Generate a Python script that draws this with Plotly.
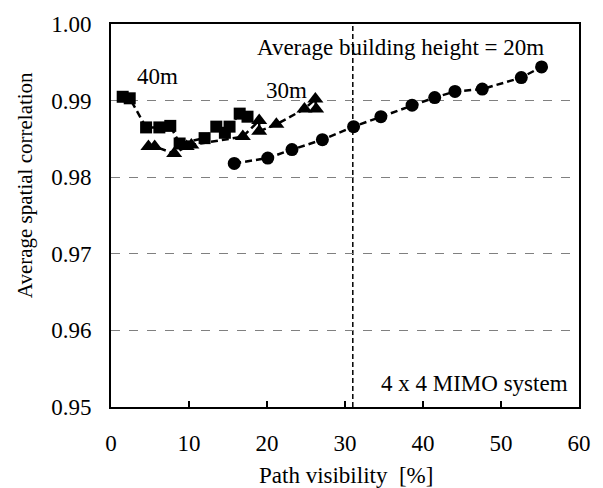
import plotly.graph_objects as go

# Data
x_20m = [15.8, 20.1, 23.2, 27.1, 31.1, 34.6, 38.6, 41.5, 44.1, 47.6, 52.6, 55.2]
y_20m = [0.9818, 0.9825, 0.9836, 0.9849, 0.9866, 0.9879, 0.9894, 0.9904, 0.9912, 0.9915, 0.9930, 0.9944]

x_30m = [4.8, 5.6, 8.1, 9.7, 10.3, 16.9, 19.0, 19.0, 21.2, 24.8, 26.2, 26.3]
y_30m = [0.9840, 0.9840, 0.9831, 0.9840, 0.9842, 0.9853, 0.9874, 0.9860, 0.9869, 0.9889, 0.9902, 0.9889]

x_40m = [1.5, 2.4, 4.5, 6.2, 7.6, 8.8, 12.0, 13.5, 14.6, 15.2, 16.5, 17.5]
y_40m = [0.9905, 0.9903, 0.9865, 0.9865, 0.9867, 0.9844, 0.9851, 0.9866, 0.9858, 0.9866, 0.9883, 0.9879]

x_ticks = [0, 10, 20, 30, 40, 50, 60]
y_ticks = [0.95, 0.96, 0.97, 0.98, 0.99, 1.00]
y_tick_text = ["0.95", "0.96", "0.97", "0.98", "0.99", "1.00"]
x_mark = 31

FONT = "Liberation Serif"
FS = 23

fig = go.Figure()
for xs, ys, sym, sz in [(x_40m, y_40m, "square", 12), (x_30m, y_30m, "triangle-up", 14), (x_20m, y_20m, "circle", 13)]:
    fig.add_trace(go.Scatter(
        x=xs, y=ys, mode="lines+markers",
        line=dict(color="black", width=2.5, dash="7px,4px"),
        marker=dict(symbol=sym, size=sz, color="black"),
        showlegend=False, cliponaxis=False,
    ))

fig.add_shape(type="line", x0=x_mark, x1=x_mark, y0=0, y1=1, xref="x", yref="paper",
              line=dict(color="black", width=1.5, dash="5px,3px"), layer="below")

ann = dict(showarrow=False, font=dict(family=FONT, size=FS, color="black"))
fig.add_annotation(x=37.1, y=0.99692, text="Average building height = 20m", **ann)
fig.add_annotation(x=6.0, y=0.9932, text="40m", **ann)
fig.add_annotation(x=22.5, y=0.99128, text="30m", **ann)
fig.add_annotation(x=46.6, y=0.95308, text="4 x 4 MIMO system", **ann)
# axis titles
fig.add_annotation(x=-0.183, y=0.58, xref="paper", yref="paper", textangle=-90,
                   xanchor="center", yanchor="middle", text="Average spatial correlation",
                   showarrow=False, font=dict(family=FONT, size=21, color="black"))
fig.add_annotation(x=0.502, y=-0.1795, xref="paper", yref="paper",
                   xanchor="center", yanchor="middle", text="Path visibility  [%]", **ann)

fig.update_layout(
    width=603, height=488,
    margin=dict(l=111, r=22, t=17, b=81),
    paper_bgcolor="white", plot_bgcolor="white",
    font=dict(family=FONT, size=FS, color="black"),
    xaxis=dict(
        range=[0, 60], tickvals=x_ticks, showgrid=False,
        showline=True, linecolor="black", linewidth=2, mirror=True,
        ticks="inside", ticklen=6, tickcolor="black", tickwidth=1.5,
        ticklabelstandoff=14,
        zeroline=False, tickfont=dict(family=FONT, size=FS),
    ),
    yaxis=dict(
        range=[0.95, 1.00], tickvals=y_ticks, ticktext=y_tick_text,
        showgrid=True, gridcolor="#808080", gridwidth=1, griddash="dash",
        showline=True, linecolor="black", linewidth=2, mirror=True,
        ticks="", zeroline=False, ticklabelstandoff=13,
        tickfont=dict(family=FONT, size=FS),
    ),
)

fig.write_html("out.html")
